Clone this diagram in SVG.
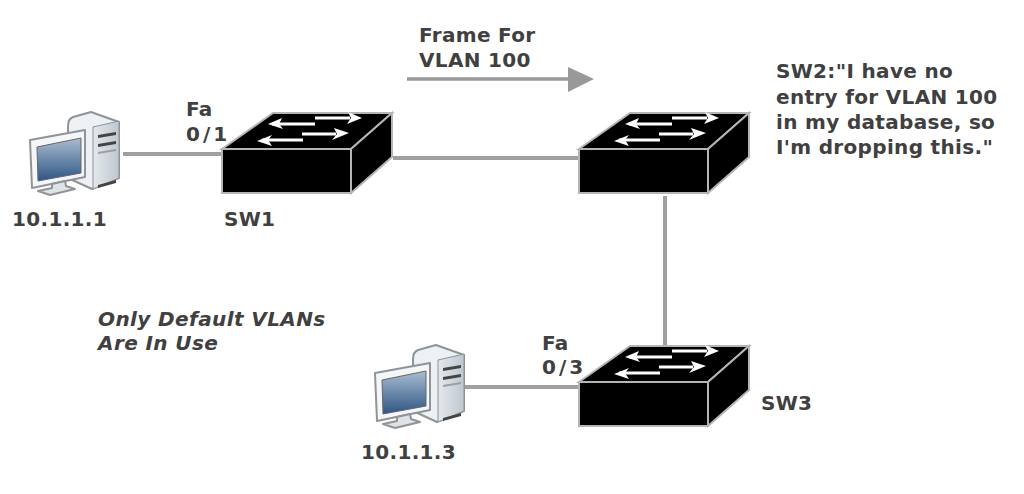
<svg xmlns="http://www.w3.org/2000/svg" width="1024" height="494" viewBox="0 0 1024 494">
<style>
text{font-family:"DejaVu Sans","Liberation Sans",sans-serif;font-weight:bold;font-size:20px;letter-spacing:.33px;fill:#404040}
.i{font-style:italic;letter-spacing:.4px}
.w{letter-spacing:3px}
.c{stroke:#a0a0a0;stroke-width:4;fill:none}
.o{stroke:#8f9499;stroke-width:2;stroke-linejoin:round}
.ar{stroke:#fff;stroke-width:3;fill:none}
</style>
<defs>
<linearGradient id="scr" x1="0" y1="0" x2="0" y2="1"><stop offset="0" stop-color="#a9bdd2"/><stop offset="1" stop-color="#2f5584"/></linearGradient>
<linearGradient id="tw" x1="0" y1="0" x2="1" y2="0"><stop offset="0" stop-color="#e4e8ec"/><stop offset="1" stop-color="#bfc7cf"/></linearGradient>
<symbol id="sw" overflow="visible">
<path d="M222 149L273 113H392L351 149Z" fill="#000" stroke="#b5b5b5" stroke-width="2"/>
<path d="M351 149L392 113V157L351 193Z" fill="#000" stroke="#b5b5b5" stroke-width="2"/>
<rect x="222" y="149" width="129" height="44" fill="#000" stroke="#b5b5b5" stroke-width="2"/>
<path class="ar" d="M315 118H350M302 134H336M272 124H315M262 140H303"/>
<g fill="#fff">
<path d="M348 112L362 118L347 124L351 118Z"/>
<path d="M334 128L349 133L332 140L337 134Z"/>
<path d="M282 118L268 124L283 129L279 124Z"/>
<path d="M272 135L257 141L272 146L268 140Z"/>
</g>
</symbol>
<symbol id="pc" overflow="visible">
<path d="M68 126Q68 119 73 117L91 112L119 122V178L92 189L68 178Z" fill="#eef1f4" class="o"/>
<path d="M93 127L119 121V178L93 189Z" fill="url(#tw)" stroke="#8d9298" stroke-width="1"/>
<path d="M98 135L116 132V135L98 138ZM98 144L116 141V144L98 147Z" fill="#444"/>
<path d="M98 152L116 149V151L98 154Z" fill="#98a0a6"/>
<path d="M98 185L116 180V183L98 188Z" fill="#444"/>
<path d="M30 140L85 130V177L32 188Z" fill="#f5f6f8" class="o"/>
<path d="M37 147L81 138V173L38 181Z" fill="url(#scr)" stroke="#666" stroke-width="1"/>
<path d="M52 184L65 181L66 186L75 189L50 195L38 191L52 188Z" fill="#dfe3e6" class="o" stroke-width="1.5"/>
</symbol>
</defs>
<g id="connectors">
<path class="c" d="M123 154H221"/>
<path class="c" d="M393 158H579"/>
<path class="c" d="M665 196V345"/>
<path class="c" d="M465 387H579"/>
<path d="M407 79H568" stroke="#999" stroke-width="3.5" fill="none"/>
<path d="M568 67L594 79L568 92Z" fill="#999"/>
</g>
<g id="pc1"><use href="#pc"/><text x="12" y="226">10.1.1.1</text></g>
<g id="pc2"><use href="#pc" x="345" y="233"/><text x="361" y="459">10.1.1.3</text></g>
<g id="sw1"><use href="#sw"/><text x="224" y="226">SW1</text></g>
<g id="sw2"><use href="#sw" x="357"/></g>
<g id="sw3"><use href="#sw" x="357" y="233"/><text x="761" y="410">SW3</text></g>
<g id="labels">
<text x="186" y="116">Fa</text>
<text class="w" x="186" y="141">0/1</text>
<text x="542" y="350">Fa</text>
<text class="w" x="542" y="374">0/3</text>
<text x="419" y="42">Frame For</text>
<text x="419" y="67">VLAN 100</text>
<text x="776" y="78">SW2:"I have no</text>
<text x="776" y="104">entry for VLAN 100</text>
<text x="776" y="129">in my database, so</text>
<text x="776" y="154">I'm dropping this."</text>
<text class="i" x="98" y="326">Only Default VLANs</text>
<text class="i" x="98" y="350">Are In Use</text>
</g>
</svg>
